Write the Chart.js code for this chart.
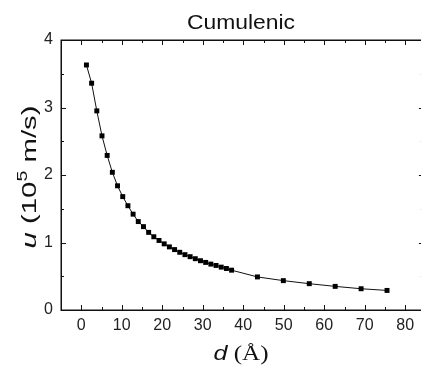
<!DOCTYPE html>
<html>
<head>
<meta charset="utf-8">
<script src="https://cdn.jsdelivr.net/npm/chart.js@4.4.1/dist/chart.umd.min.js"></script>
<style>
html,body{margin:0;padding:0;background:#fff;overflow:hidden;width:421px;height:370px;}
canvas{display:block;}
</style>
</head>
<body>
<canvas id="c" width="421" height="370"></canvas>
<script>
// Data
const distances = [1.28, 2.56, 3.84, 5.12, 6.40, 7.68, 8.96, 10.24, 11.52, 12.80,
  14.08, 15.36, 16.64, 17.92, 19.20, 20.48, 21.76, 23.04, 24.32, 25.60,
  26.88, 28.16, 29.44, 30.72, 32.00, 33.28, 34.56, 35.84, 37.12,
  43.5, 49.9, 56.3, 62.7, 69.1, 75.5];
const velocities = [3.63, 3.36, 2.95, 2.58, 2.29, 2.04, 1.84, 1.68, 1.545, 1.42,
  1.31, 1.235, 1.15, 1.085, 1.03, 0.98, 0.935, 0.895, 0.855, 0.82,
  0.79, 0.76, 0.73, 0.705, 0.68, 0.66, 0.635, 0.615, 0.59,
  0.49, 0.435, 0.39, 0.35, 0.315, 0.29];
const xTickLabels = [0, 10, 20, 30, 40, 50, 60, 70, 80];
const yTickLabels = [0, 1, 2, 3, 4];
const chartTitle = 'Cumulenic';

const points = distances.map((d, i) => ({x: d, y: velocities[i]}));
const SANS = '"Liberation Sans", Arial, sans-serif';

const framePlugin = {
  id: 'frame',
  afterDatasetsDraw(chart) {
    const ctx = chart.ctx;
    const a = chart.chartArea;
    const xs = chart.scales.x, ys = chart.scales.y;
    const rightEdge = xs.getPixelForValue(84.6); // frame lies just past the window edge
    ctx.save();
    ctx.strokeStyle = '#111';
    ctx.lineWidth = 1;
    const xMaj = [], xMin = [];
    for (let v = -5; v <= 80; v += 5) { (v % 10 === 0 ? xMaj : xMin).push(v); }
    const yMaj = [], yMin = [];
    for (let v = 0; v <= 4.001; v += 0.5) { (Math.abs(v - Math.round(v)) < 1e-6 ? yMaj : yMin).push(v); }
    ctx.beginPath();
    const tick = (vals, len) => {
      vals.forEach(v => {
        const px = Math.round(xs.getPixelForValue(v)) + 0.5;
        ctx.moveTo(px, a.bottom); ctx.lineTo(px, a.bottom - len);
        ctx.moveTo(px, a.top); ctx.lineTo(px, a.top + len);
      });
    };
    const ytick = (vals, len) => {
      vals.forEach(v => {
        const py = Math.round(ys.getPixelForValue(v)) + 0.5;
        ctx.moveTo(a.left, py); ctx.lineTo(a.left + len, py);
        ctx.moveTo(rightEdge, py); ctx.lineTo(rightEdge - len, py);
      });
    };
    tick(xMaj, 5); tick(xMin, 3);
    ytick(yMaj, 5); ytick(yMin, 3);
    ctx.stroke();
    ctx.lineWidth = 1.5;
    ctx.strokeRect(Math.round(a.left) + 0.25, Math.round(a.top) + 0.25, rightEdge - a.left, a.bottom - a.top);

    ctx.fillStyle = '#111';
    ctx.textBaseline = 'alphabetic';
    ctx.textAlign = 'left';

    // Title
    ctx.font = '20px ' + SANS;
    let tw = ctx.measureText(chartTitle).width;
    let sc = 108 / tw;
    ctx.save();
    ctx.translate(241 - 54, 29);
    ctx.scale(sc, 1);
    ctx.fillText(chartTitle, 0, 0);
    ctx.restore();

    // X axis title: d (Å)
    const f1 = 'italic 20px ' + SANS;
    const f2 = '20px "Liberation Serif", "Times New Roman", serif';
    ctx.font = f1; const w1 = ctx.measureText('d').width;
    ctx.font = f2; const w2 = ctx.measureText(' (Å)').width;
    sc = 55 / (w1 + w2);
    ctx.save();
    ctx.translate(241 - 27.5, 360);
    ctx.scale(sc, 1);
    ctx.font = f1; ctx.fillText('d', 0, 0);
    ctx.font = f2; ctx.fillText(' (Å)', w1, 0);
    ctx.restore();

    // Y axis title: u (10^5 m/s), rotated
    ctx.save();
    ctx.translate(36, 177);
    ctx.rotate(-Math.PI / 2);
    const fi = 'italic 21px ' + SANS;
    const fn = '21px ' + SANS;
    const fs = '14px ' + SANS;
    const parts = [['u', fi, 0], [' (10', fn, 0], ['5', fs, -9], [' m/s)', fn, 0]];
    let total = 0;
    parts.forEach(p => { ctx.font = p[1]; total += ctx.measureText(p[0]).width; });
    sc = 143 / total;
    ctx.scale(sc, 1);
    let px = -total / 2;
    parts.forEach(p => { ctx.font = p[1]; ctx.fillText(p[0], px, p[2]); px += ctx.measureText(p[0]).width; });
    ctx.restore();
    ctx.restore();
  }
};

new Chart(document.getElementById('c'), {
  type: 'scatter',
  data: {
    datasets: [{
      data: points,
      showLine: true,
      borderColor: '#111',
      borderWidth: 1,
      pointStyle: 'rect',
      pointRadius: 3.5,
      pointBackgroundColor: '#000',
      pointBorderColor: '#000',
      pointBorderWidth: 0,
      tension: 0
    }]
  },
  options: {
    responsive: false,
    animation: false,
    layout: {padding: {top: 40, left: 0, right: 0, bottom: 0}},
    plugins: {legend: {display: false}, tooltip: {enabled: false}, title: {display: false}},
    scales: {
      x: {
        type: 'linear', min: -5, max: 82.9,
        grid: {display: false, drawTicks: false},
        border: {display: false},
        afterBuildTicks: s => { s.ticks = xTickLabels.map(v => ({value: v})); },
        afterFit: s => { s.height = 60; },
        ticks: {color: '#222', padding: 6, font: {size: 16, family: SANS}, maxRotation: 0}
      },
      y: {
        type: 'linear', min: 0, max: 4,
        grid: {display: false, drawTicks: false},
        border: {display: false},
        afterBuildTicks: s => { s.ticks = yTickLabels.map(v => ({value: v})); },
        afterFit: s => { s.width = 61; },
        ticks: {color: '#222', padding: 8, font: {size: 16, family: SANS}}
      }
    }
  },
  plugins: [framePlugin]
});
</script>
</body>
</html>
